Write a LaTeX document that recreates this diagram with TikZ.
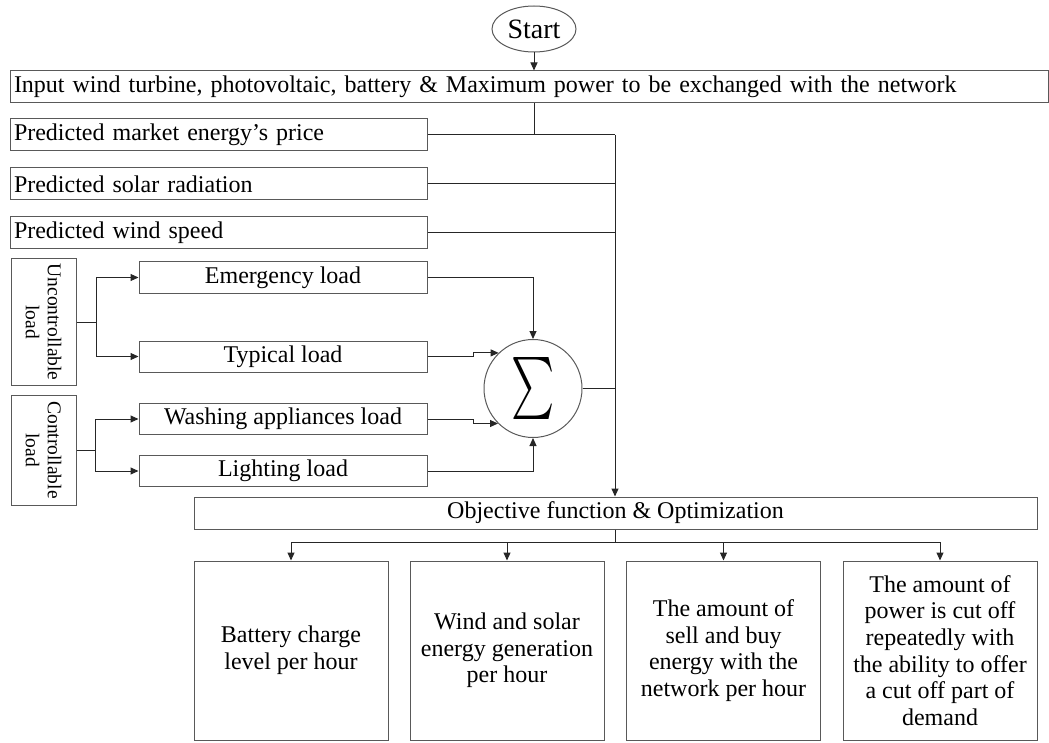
\documentclass[tikz,border=0pt]{standalone}
\usepackage{fontspec}
\usepackage{graphicx}
\setmainfont{Liberation Serif}
\usetikzlibrary{arrows.meta,shapes.geometric}
\tikzset{
	box/.style={draw=black!65, line width=1pt, rectangle, minimum height=32pt, inner xsep=4pt, font=\fontsize{24}{26.7}\selectfont},
	leftbox/.style={box, align=left, text width=#1},
	sidebox/.style={box, rotate=-90, align=center, minimum height=65pt, inner sep=2pt, font=\fontsize{19.5}{22}\selectfont},
	loadbox/.style={box, minimum width=288pt, minimum height=31pt},
	resbox/.style={box, align=center, minimum width=194pt, minimum height=179pt},
	wire/.style={line width=1pt, black!85},
	arr/.style={-{Triangle[length=8pt,width=7pt]}}
}

\begin{document}
\begin{tikzpicture}[x=1pt,y=-1pt]
		%%%%% START %%%%%
		\useasboundingbox (0,0) rectangle (1049,743);
		
		\node[ellipse, draw=black!65, line width=1pt, minimum width=84pt, minimum height=46pt, inner sep=0pt, font=\fontsize{28}{30}\selectfont] (start) at (534,29) {Start};
		\node[leftbox=1030pt] (input) at (529,87) {Input wind turbine, photovoltaic, battery \& Maximum power to be exchanged with the network};
		\node[leftbox=409pt] (price) at (218.5,135) {Predicted market energy's price};
		\node[leftbox=409pt] (solar) at (218.5,184) {Predicted solar radiation};
		\node[leftbox=409pt] (wind) at (218.5,232.5) {Predicted wind speed};
		
		\node[sidebox, minimum width=126pt] (uncon) at (43.5,322) {Uncontrollable\\load};
		\node[sidebox, minimum width=110pt] (contr) at (43.5,450) {Controllable\\load};
		\node[loadbox] (emerg) at (283,277.5) {Emergency load};
		\node[loadbox] (typical) at (283,356.5) {Typical load};
		\node[loadbox] (washing) at (283,419) {Washing appliances load};
		\node[loadbox] (lighting) at (283,471) {Lighting load};
		
		\node[circle, draw=black!65, line width=1pt, minimum size=98pt, inner sep=0pt] (sigma) at (533,388.5) {\scalebox{4.1}[6.2]{$\sum$}};
		
		\node[box, minimum width=843pt] (obj) at (615.5,513) {Objective function \& Optimization};
		
		\node[resbox] (res1) at (291,650.5) {Battery charge\\level per hour};
		\node[resbox] (res2) at (507,650.5) {Wind and solar\\energy generation\\per hour};
		\node[resbox] (res3) at (723.5,650.5) {The amount of\\sell and buy\\energy with the\\network per hour};
		\node[resbox] (res4) at (940,650.5) {The amount of\\power is cut off\\repeatedly with\\the ability to offer\\a cut off part of\\demand};
		
		%%%%% CONNECTORS %%%%%
		\coordinate (bus) at (615,135);
		\coordinate (fork) at (615,542);
		
		\draw[wire, arr] (start) -- (input.north -| start);
		\draw[wire] (input.south -| start) -- (price.east -| start);
		\draw[wire] (price.east) -- (bus);
		\draw[wire] (solar.east) -- (solar.east -| bus);
		\draw[wire] (wind.east) -- (wind.east -| bus);
		\draw[wire, arr] (bus) -- (bus |- obj.north);
		
		\draw[wire, arr] (uncon.north) -- ++(20,0) |- (emerg.west);
		\draw[wire, arr] (uncon.north) ++(20,0) |- (typical.west);
		\draw[wire, arr] (contr.north) -- ++(19,0) |- (washing.west);
		\draw[wire, arr] (contr.north) ++(19,0) |- (lighting.west);
		
		\draw[wire, arr] (emerg.east) -| (sigma.north);
		\draw[wire, arr] (typical.east) -- ++(46,0) |- (sigma.134);
		\draw[wire, arr] (washing.east) -- ++(46,0) |- (sigma.225);
		\draw[wire, arr] (lighting.east) -| (sigma.south);
		\draw[wire] (sigma.east) -- (sigma.east -| bus);
		
		\draw[wire] (obj.south -| bus) -- (fork);
		\foreach \r in {res1,res2,res3,res4}
			\draw[wire, arr] (fork) -| (\r.north);
		
		%%%%% END %%%%%
\end{tikzpicture}
\end{document}
